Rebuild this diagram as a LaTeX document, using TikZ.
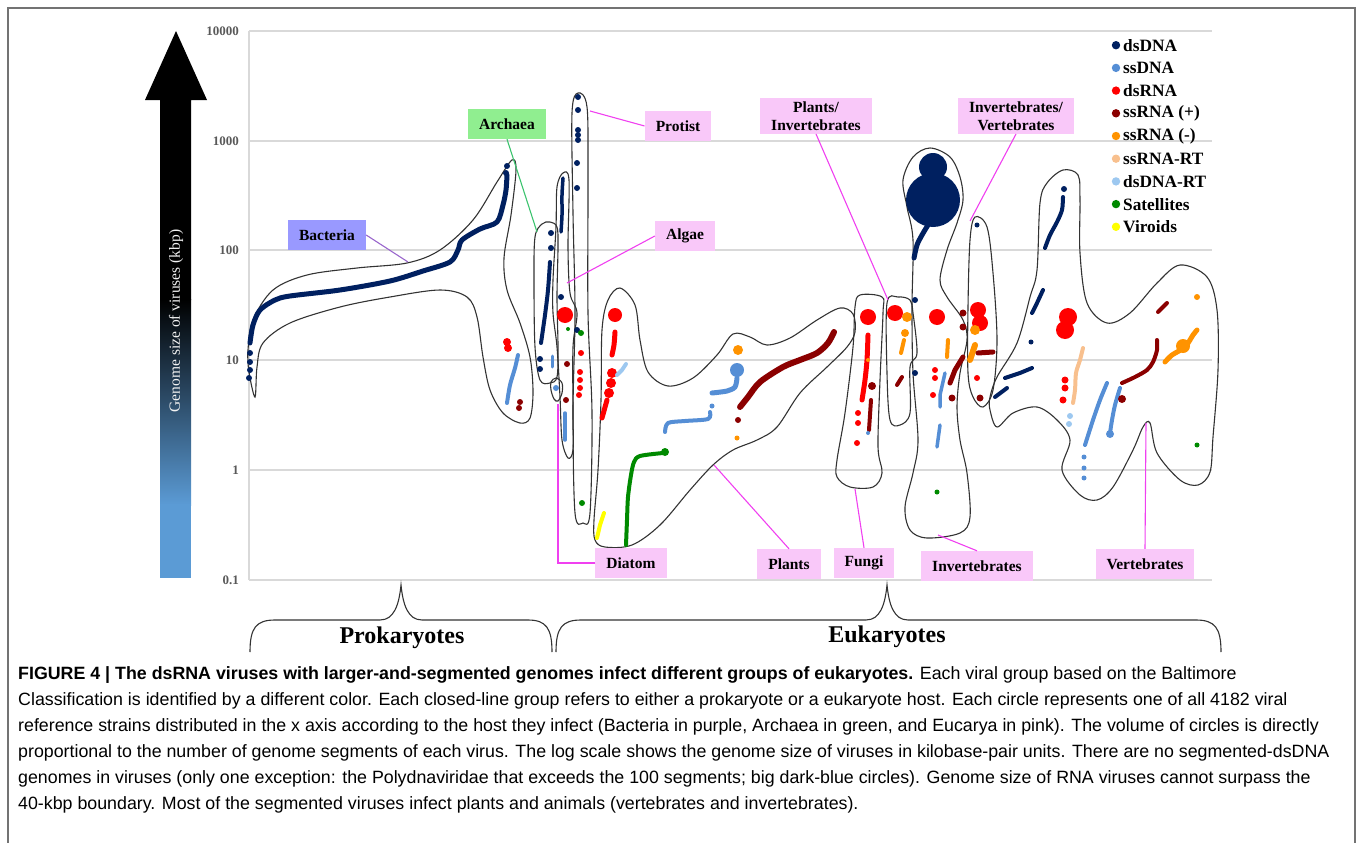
\documentclass[tikz,border=0pt]{standalone}
\usepackage{fontspec}
\setmainfont{Liberation Serif}
\newfontfamily\capfont{Liberation Sans}
\usetikzlibrary{positioning}

\definecolor{dsdna}{HTML}{002060}
\definecolor{ssdna}{HTML}{558ED5}
\definecolor{dsrna}{HTML}{FF0000}
\definecolor{ssrnap}{HTML}{8B0000}
\definecolor{ssrnam}{HTML}{FF9300}
\definecolor{ssrnart}{HTML}{F8C08E}
\definecolor{dsdnart}{HTML}{9DC8F0}
\definecolor{satel}{HTML}{008A00}
\definecolor{viroid}{HTML}{FFFF00}
\definecolor{pinkbox}{HTML}{F9C8F9}
\definecolor{pinkline}{HTML}{F040F0}
\definecolor{bacbox}{HTML}{9999FF}
\definecolor{bacline}{HTML}{9966CC}
\definecolor{arcbox}{HTML}{90EE90}
\definecolor{arcline}{HTML}{3CC36E}
\definecolor{axisblue}{HTML}{5B9BD5}
\definecolor{gridgray}{HTML}{D9D9D9}
\definecolor{ticktext}{HTML}{595959}

\newcommand{\spots}[3]{\foreach \px/\py in {#3} {\fill[#1] (\px,\py) circle (#2);}}

\begin{document}
\begin{tikzpicture}[x=1pt,y=-1pt,
    hull/.style={draw=black!80,line width=1.1pt},
    trail/.style={line width=#1,line cap=round,line join=round},
    gridline/.style={draw=gridgray,line width=1.2pt},
    tick/.style={text=ticktext,font=\fontsize{13}{13}\selectfont\bfseries,inner sep=0pt},
    lbl/.style={fill=pinkbox,inner xsep=11pt,minimum height=30pt,
        font=\fontsize{15.5}{18}\selectfont\bfseries,align=center},
    legtext/.style={font=\fontsize{17.3}{17.3}\selectfont\bfseries,inner sep=0pt,anchor=west},
    brtext/.style={font=\fontsize{24}{24}\selectfont\bfseries},
    ptr/.style={line width=1.1pt}]
    \useasboundingbox (0,0) rectangle (1360,843);
    \draw[black!55,line width=1.5pt] (8,843) -- (8,8) -- (1355,8) -- (1355,843);

    \fill[black] (160,100) -- (145,100) -- (176,31) -- (207,100) -- (191,100)
        -- (191,300) -- (160,300) -- cycle;
    \shade[top color=black,bottom color=axisblue] (160,299) rectangle (191,505);
    \fill[axisblue] (160,504) rectangle (191,578);
    \node[rotate=90,text=white!90!gray,font=\fontsize{15.5}{15.5}\selectfont]
        (ytitle) at (176,321) {Genome size of viruses (kbp)};

    \draw[gridline] (249,31) -- (249,580);
    \foreach \v/\y [count=\i] in {10000/31,1000/141,100/250,10/360,1/470,0.1/580} {
        \draw[gridline] (249,\y) -- (1212,\y);
        \node[tick,anchor=east] (tick\i) at (239,\y) {\v};
    }

    \draw[hull] plot[smooth cycle,tension=0.55] coordinates {(255,397) (249,372) (248,350)
        (253,320) (273,290) (307,275) (357,268) (407,263) (440,250) (473,220) (497,182)
        (512,160) (516,170) (511,215) (504,258) (507,290) (520,323) (530,357) (533,392)
        (530,418) (520,423) (503,413) (490,390) (483,357) (477,317) (467,297) (440,290)
        (390,297) (340,307) (290,323) (263,343) (257,367)};
    \draw[hull] plot[smooth cycle,tension=0.55] coordinates {(550,222) (557,227) (558,247)
        (557,297) (558,347) (557,377) (550,383) (540,380) (535,347) (534,280) (535,237)
        (542,224)};
    \draw[hull] plot[smooth cycle,tension=0.55] coordinates {(556,378) (562,383) (562,393)
        (558,401) (554,399) (551,390) (551,382)};
    \draw[hull] plot[smooth cycle,tension=0.55] coordinates {(563,173) (569,180) (568,247)
        (570,293) (577,313) (573,347) (573,413) (573,450) (568,458) (562,440) (560,397)
        (557,347) (553,313) (553,280) (556,227) (557,187)};
    \draw[hull] plot[smooth cycle,tension=0.55] coordinates {(578,93) (587,107) (588,180)
        (588,313) (592,413) (590,513) (583,523) (575,513) (573,413) (575,313) (573,213)
        (572,113)};
    \draw[hull] plot[smooth cycle,tension=0.55] coordinates {(620,288) (635,305) (640,340)
        (648,372) (668,386) (693,378) (717,355) (733,334) (750,337) (767,345) (790,338)
        (817,320) (840,308) (853,314) (855,332) (847,347) (827,367) (800,393) (777,427)
        (757,440) (733,450) (713,465) (690,490) (660,525) (632,545) (605,547) (595,540)
        (594,520) (598,470) (601,400) (602,330) (608,300)};
    \draw[hull] plot[smooth cycle,tension=0.55] coordinates {(860,295) (882,297) (883,313)
        (880,380) (878,447) (882,473) (873,487) (850,487) (837,477) (837,460) (845,413)
        (853,347) (855,307)};
    \draw[hull] plot[smooth cycle,tension=0.55] coordinates {(898,297) (910,300) (913,313)
        (917,353) (910,367) (910,413) (900,425) (890,420) (887,373) (887,303)};
    \draw[hull] plot[smooth cycle,tension=0.55] coordinates {(930,148) (950,157) (960,177)
        (963,200) (957,223) (947,250) (940,280) (947,297) (963,320) (967,340) (960,373)
        (957,407) (960,440) (967,473) (970,517) (960,533) (927,538) (910,530) (905,507)
        (913,473) (918,440) (913,373) (912,307) (913,240) (907,207) (903,180) (913,157)};
    \draw[hull] plot[smooth cycle,tension=0.55] coordinates {(975,217) (987,227) (993,273)
        (997,340) (993,390) (983,407) (973,397) (968,373) (968,307) (970,240)};
    \draw[hull] plot[smooth cycle,tension=0.55] coordinates {(1063,170) (1078,175) (1080,200)
        (1080,253) (1087,303) (1107,323) (1130,313) (1157,283) (1180,265) (1207,277)
        (1217,310) (1218,370) (1213,437) (1210,472) (1198,485) (1180,480) (1157,453)
        (1150,423) (1143,427) (1133,450) (1113,487) (1097,500) (1080,495) (1062,470)
        (1070,440) (1057,420) (1037,407) (1013,413) (997,427) (990,410) (990,397)
        (997,377) (1017,343) (1030,297) (1037,270) (1040,203) (1047,183)};

    \draw[trail=5pt,dsdna] plot[smooth] coordinates {(250,343) (253,325) (260,310) (275,300)
        (290,296) (340,290) (390,281) (423,271) (450,262) (458,250) (462,240) (480,229)
        (497,222) (503,205) (506,190) (507,175)};
    \spots{dsdna}{3pt}{250/353,250/362,250/370,249/378,507/166,506/173}
    \spots{dsrna}{4pt}{507/342,508/348}
    \draw[trail=4pt,ssdna] plot[smooth] coordinates {(518,355) (515,368) (510,385) (507,403)};
    \spots{ssrnap}{3pt}{520/402,519/408}

    \spots{dsdna}{3pt}{551/233,551/248,540/359,540/369}
    \draw[trail=4pt,dsdna] plot[smooth] coordinates {(550,262) (548,290) (545,315) (541,343)};
    \draw[trail=3pt,ssdna] (552,356) -- (552,367);
    \spots{ssdna}{3pt}{556/388}

    \draw[trail=3.5pt,dsdna] plot[smooth] coordinates {(563,178) (562,195) (562,215) (561,232)};
    \spots{dsdna}{3pt}{561/297}
    \spots{dsrna}{8pt}{565/315}
    \spots{satel}{2pt}{568/329}
    \spots{ssrnap}{3pt}{567/364,566/400}
    \draw[trail=3.5pt,ssdna] (565,413) -- (565,440);

    \spots{dsdna}{3pt}{578/97,578/110,578/130,578/135,578/140,577/163,577/188,577/330}
    \spots{satel}{3pt}{581/333,582/503}
    \spots{dsrna}{3pt}{581/353,580/372,580/380,580/388,579/395}

    \spots{dsrna}{7pt}{615/315}
    \draw[trail=5pt,dsrna] plot[smooth] coordinates {(615,332) (614,345) (612,355)};
    \spots{dsrna}{5pt}{612/373,611/383,609/393}
    \draw[trail=5pt,dsrna] (607,400) -- (602,418);
    \draw[trail=4pt,dsdnart] (617,375) -- (622,370) -- (626,364);
    \draw[trail=4pt,viroid] (604,513) -- (600,525) -- (597,538);
    \draw[trail=4pt,satel] plot[smooth] coordinates {(626,545) (627,520) (628,497) (631,475)
        (634,462) (640,456) (663,453)};
    \spots{satel}{4pt}{665/452}
    \draw[trail=4pt,ssdna] plot[smooth] coordinates {(665,432) (668,423) (685,421) (708,419)
        (710,412)};
    \draw[trail=5pt,ssdna] plot[smooth] coordinates {(712,393) (727,391) (735,387) (737,378)};
    \spots{ssdna}{7pt}{737/370}
    \spots{ssdna}{2.5pt}{712/406}
    \spots{ssrnam}{5pt}{738/350}
    \draw[trail=6pt,ssrnap] plot[smooth] coordinates {(740,407) (748,397) (760,382) (783,367)
        (800,360) (817,353) (828,343) (834,332)};
    \spots{ssrnap}{3pt}{738/420}
    \spots{ssrnam}{2.5pt}{737/438}

    \spots{dsrna}{8pt}{868/317}
    \draw[trail=5pt,dsrna] plot[smooth] coordinates {(868,335) (867,360) (865,380) (862,400)};
    \spots{dsrna}{3pt}{858/413,858/423,857/443}
    \spots{ssrnap}{4pt}{872/386}
    \draw[trail=4pt,ssrnap] (871,400) -- (869,430);
    \spots{ssrnam}{2pt}{868/360}
    \spots{ssdna}{2pt}{868/433}

    \spots{dsrna}{8pt}{895/313}
    \spots{ssrnam}{5pt}{907/317}
    \spots{ssrnam}{4pt}{905/333}
    \draw[trail=4pt,ssrnam] (904,340) -- (901,353);
    \draw[trail=4pt,ssrnap] (902,377) -- (897,385);

    \spots{dsdna}{27pt}{933/200}
    \spots{dsdna}{14pt}{933/167}
    \draw[trail=5pt,dsdna] plot[smooth] coordinates {(928,225) (922,235) (917,245) (914,258)};
    \spots{dsdna}{3pt}{915/300,915/373}
    \spots{dsrna}{8pt}{937/317}
    \spots{dsrna}{3pt}{935/370,935/378,933/395}
    \draw[trail=3.5pt,ssdna] (945,373) -- (940,395) -- (940,407);
    \draw[trail=3.5pt,ssdna] (940,425) -- (937,447);
    \draw[trail=4pt,ssrnam] (948,340) -- (947,357);
    \draw[trail=5pt,ssrnap] (963,357) -- (955,370) -- (950,383);
    \spots{ssrnap}{3.5pt}{952/398,963/313,963/327}
    \spots{satel}{2.5pt}{937/492}

    \spots{dsdna}{2.5pt}{977/225}
    \spots{dsrna}{8pt}{978/310,980/323}
    \spots{ssrnam}{5pt}{975/330}
    \draw[trail=6pt,ssrnam] (975,345) -- (970,360);
    \draw[trail=5pt,ssrnap] (978,353) -- (993,352);
    \spots{dsrna}{3pt}{977/378}
    \spots{ssrnap}{3.5pt}{980/398}

    \draw[trail=4pt,dsdna] plot[smooth] coordinates {(1045,248) (1050,235) (1057,222)
        (1062,210) (1063,197)};
    \spots{dsdna}{3pt}{1064/189}
    \draw[trail=4pt,dsdna] (1032,313) -- (1037,303) -- (1043,290);
    \spots{dsdna}{2.5pt}{1031/342}
    \draw[trail=4pt,dsdna] (1005,378) -- (1020,373) -- (1032,368);
    \draw[trail=4pt,dsdna] (995,397) -- (1007,388);
    \spots{dsrna}{9pt}{1068/317,1065/330}
    \spots{dsrna}{3.5pt}{1065/380,1065/388,1063/400}
    \draw[trail=4pt,ssrnart] plot[smooth] coordinates {(1083,348) (1080,360) (1076,373)
        (1075,390) (1073,403)};
    \spots{dsdnart}{3pt}{1070/416,1069/424}
    \draw[trail=4pt,ssdna] plot[smooth] coordinates {(1107,383) (1100,400) (1093,420) (1085,445)};
    \spots{ssdna}{2.5pt}{1084/457,1084/468,1084/478}
    \draw[trail=4pt,ssdna] plot[smooth] coordinates {(1120,388) (1115,405) (1112,420) (1110,433)};
    \spots{ssdna}{4pt}{1110/434}
    \draw[trail=4pt,ssrnap] plot[smooth] coordinates {(1122,383) (1135,377) (1147,370)
        (1153,362) (1157,350) (1157,340)};
    \spots{ssrnap}{4pt}{1122/399}
    \draw[trail=4pt,ssrnap] (1158,312) -- (1167,303);
    \draw[trail=5pt,ssrnam] plot[smooth] coordinates {(1165,362) (1172,355) (1185,347)
        (1193,335) (1197,330)};
    \spots{ssrnam}{7pt}{1183/346}
    \spots{ssrnam}{3pt}{1197/297}
    \spots{satel}{2.5pt}{1197/445}

    \foreach \lab/\col [count=\i] in {dsDNA/dsdna,ssDNA/ssdna,dsRNA/dsrna,ssRNA (+)/ssrnap,
        ssRNA (-)/ssrnam,ssRNA-RT/ssrnart,dsDNA-RT/dsdnart,Satellites/satel,Viroids/viroid} {
        \fill[\col] (1116,{22.7*\i+22.5}) circle (4.2pt);
        \node[legtext] (leg\i) at (1123,{22.7*\i+22.5}) {\lab};
    }

    \node[lbl,fill=bacbox] (bacteria) at (327,235) {Bacteria};
    \node[lbl,fill=arcbox] (archaea) at (507,124) {Archaea};
    \node[lbl] (protist) at (678,126) {Protist};
    \node[lbl] (algae) at (685,236) {Algae};
    \node[lbl] (plantinv) at (816,116) {Plants/\\Invertebrates};
    \node[lbl] (invvert) at (1016,116) {Invertebrates/\\Vertebrates};
    \node[lbl] (diatom) at (631,563) {Diatom};
    \node[lbl] (plants) at (789,564) {Plants};
    \node[lbl] (fungi) at (864,563) {Fungi};
    \node[lbl] (invert) at (977,566) {Invertebrates};
    \node[lbl] (vert) at (1145,564) {Vertebrates};

    \coordinate (bacpt) at (408,262);
    \coordinate (arcpt) at (537,232);
    \coordinate (propt) at (590,111);
    \coordinate (algpt) at (567,283);
    \coordinate (pipt) at (888,300);
    \coordinate (ivpt) at (970,221);
    \coordinate (diapt) at (558,404);
    \coordinate (plapt) at (714,465);
    \coordinate (funpt) at (855,489);
    \coordinate (invpt) at (938,535);
    \coordinate (verpt) at (1146,423);

    \draw[ptr,bacline] (bacteria.east) -- (bacpt);
    \draw[ptr,arcline] (archaea.south) -- (arcpt);
    \path[ptr,draw=pinkline]
        (protist.west) edge (propt)
        (algae.west) edge (algpt)
        (plantinv.south) edge (pipt)
        (invvert.south) edge (ivpt)
        (plants.north) edge (plapt)
        (fungi.north) edge (funpt)
        (invert.north) edge (invpt)
        (vert.north) edge (verpt);
    \draw[ptr,pinkline] (diatom.west) -| (diapt);

    \draw[black!80,line width=1.1pt] (250,652) .. controls (250,628) and (256,620) .. (275,620)
        -- (380,620) .. controls (394,620) and (399,605) .. (401,585)
        .. controls (403,605) and (408,620) .. (422,620) -- (528,620)
        .. controls (546,620) and (552,628) .. (552,652);
    \draw[black!80,line width=1.1pt] (556,652) .. controls (556,628) and (562,620) .. (581,620)
        -- (866,620) .. controls (880,620) and (885,605) .. (887,585)
        .. controls (889,605) and (894,620) .. (908,620) -- (1196,620)
        .. controls (1215,620) and (1221,628) .. (1221,652);
    \node[brtext] (prok) at (402,638) {Prokaryotes};
    \node[brtext] (euk) at (887,637) {Eukaryotes};

    \node[anchor=north west,align=left,inner sep=0pt,
        font=\capfont\fontsize{17.8}{26}\selectfont] (caption) at (18,666) {%
        \textbf{FIGURE 4 | The dsRNA viruses with larger-and-segmented genomes infect different groups of eukaryotes.} Each viral group based on the Baltimore\\
        Classification is identified by a different color. Each closed-line group refers to either a prokaryote or a eukaryote host. Each circle represents one of all 4182 viral\\
        reference strains distributed in the x axis according to the host they infect (Bacteria in purple, Archaea in green, and Eucarya in pink). The volume of circles is directly\\
        proportional to the number of genome segments of each virus. The log scale shows the genome size of viruses in kilobase-pair units. There are no segmented-dsDNA\\
        genomes in viruses (only one exception: the Polydnaviridae that exceeds the 100 segments; big dark-blue circles). Genome size of RNA viruses cannot surpass the\\
        40-kbp boundary. Most of the segmented viruses infect plants and animals (vertebrates and invertebrates).};
\end{tikzpicture}
\end{document}
